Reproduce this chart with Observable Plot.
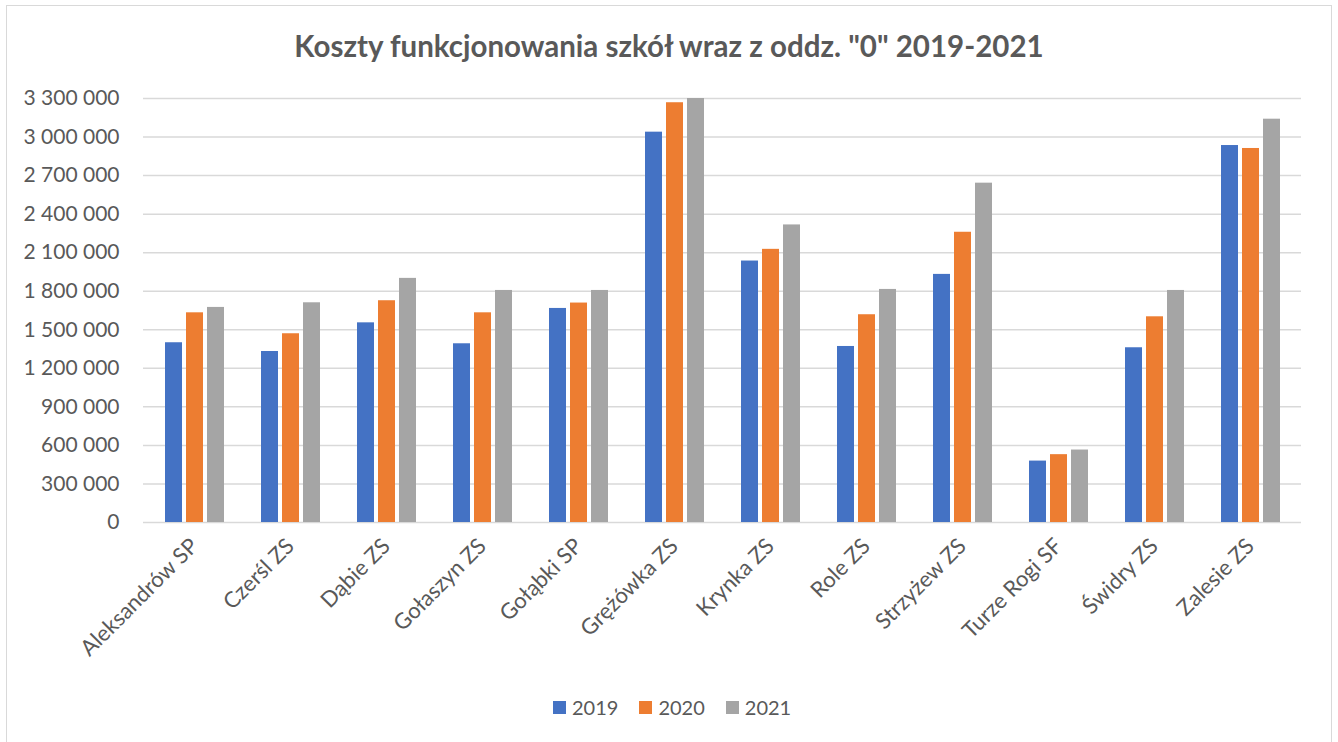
<!DOCTYPE html>
<html>
<head>
<meta charset="utf-8">
<script src="https://cdn.jsdelivr.net/npm/d3@7"></script>
<script src="https://cdn.jsdelivr.net/npm/@observablehq/plot@0.6"></script>
<style>
  html, body { margin: 0; padding: 0; background: #fff; }
  body { width: 1338px; height: 742px; position: relative; overflow: hidden; font-family: Lato, "Open Sans", sans-serif; color: #595959; }
  #frame { position: absolute; left: 6px; top: 5px; width: 1326px; height: 760px; border: 1.5px solid #D9D9D9; box-sizing: border-box; }
  #title { position: absolute; left: 0; top: 31px; width: 1338px; text-align: center; font-weight: 700; font-size: 29.5px; line-height: 1; color: #595959; }
  .layer { position: absolute; left: 0; top: 75px; }
  #legend { position: absolute; left: 553px; top: 697px; display: flex; align-items: center; font-size: 20px; line-height: 1; color: #595959; }
  #legend .item { display: flex; align-items: center; margin-right: 21px; }
  #legend .sw { width: 13px; height: 13px; margin-right: 6px; }
</style>
</head>
<body>
<div id="frame"></div>
<div id="title">Koszty funkcjonowania szkół wraz z oddz. "0" 2019-2021</div>
<div id="grid" class="layer"></div>
<div id="bars" class="layer"></div>
<div id="legend"></div>
<script>
const categories = ["Aleksandrów SP", "Czerśl ZS", "Dąbie ZS", "Gołaszyn ZS", "Gołąbki SP", "Grężówka ZS", "Krynka ZS", "Role ZS", "Strzyżew ZS", "Turze Rogi SF", "Świdry ZS", "Zalesie ZS"];
const years = ["2019", "2020", "2021"];
const values2019 = [1399000, 1331000, 1554000, 1391000, 1666000, 3038000, 2035000, 1370000, 1931000, 478000, 1360000, 2934000];
const values2020 = [1632000, 1469000, 1726000, 1632000, 1708000, 3267000, 2126000, 1617000, 2259000, 528000, 1601000, 2911000];
const values2021 = [1674000, 1710000, 1900000, 1806000, 1806000, 3300000, 2316000, 1814000, 2641000, 564000, 1806000, 3139000];
const yTicks = [0, 300000, 600000, 900000, 1200000, 1500000, 1800000, 2100000, 2400000, 2700000, 3000000, 3300000];
const colors = ["#4472C4", "#ED7D31", "#A5A5A5"];

const series = [values2019, values2020, values2021];
const data = [];
categories.forEach((c, i) => years.forEach((y, j) => data.push({school: c, year: y, value: series[j][i]})));

const fmt = d => d3.format(",")(d).replace(/,/g, "\u00a0");

const common = {
  width: 1338,
  height: 600,
  marginTop: 23,
  marginBottom: 153,
  marginLeft: 143,
  marginRight: 37,
  style: {fontFamily: "Lato, 'Open Sans', sans-serif", fontSize: "20px", color: "#595959", background: "transparent", overflow: "visible"}
};

// Layer 1: gridlines and y axis spanning the whole plot area
const gridPlot = Plot.plot({
  ...common,
  y: {domain: [0, 3300000], label: null},
  marks: [
    Plot.ruleY(yTicks, {stroke: "#D9D9D9", strokeWidth: 1.5}),
    Plot.axisY({ticks: yTicks, tickFormat: fmt, tickSize: 0, tickPadding: 24, fontSize: 21, label: null})
  ]
});
document.getElementById("grid").appendChild(gridPlot);

// Layer 2: grouped bars and category axis
const barPlot = Plot.plot({
  ...common,
  fx: {domain: categories, paddingInner: 0.38, paddingOuter: 0.16, label: null},
  x: {domain: years, paddingInner: 0.21, paddingOuter: 0, axis: null},
  y: {domain: [0, 3300000], axis: null, label: null},
  color: {domain: years, range: colors},
  marks: [
    Plot.barY(data, {fx: "school", x: "year", y: "value", fill: "year"}),
    Plot.axisFx({anchor: "bottom", tickRotate: -45, tickSize: 0, tickPadding: 20, fontSize: 22, label: null})
  ]
});
document.getElementById("bars").appendChild(barPlot);

const legend = document.getElementById("legend");
years.forEach((y, i) => {
  const item = document.createElement("div");
  item.className = "item";
  const sw = document.createElement("span");
  sw.className = "sw";
  sw.style.background = colors[i];
  const t = document.createElement("span");
  t.textContent = y;
  item.appendChild(sw);
  item.appendChild(t);
  legend.appendChild(item);
});
</script>
</body>
</html>
